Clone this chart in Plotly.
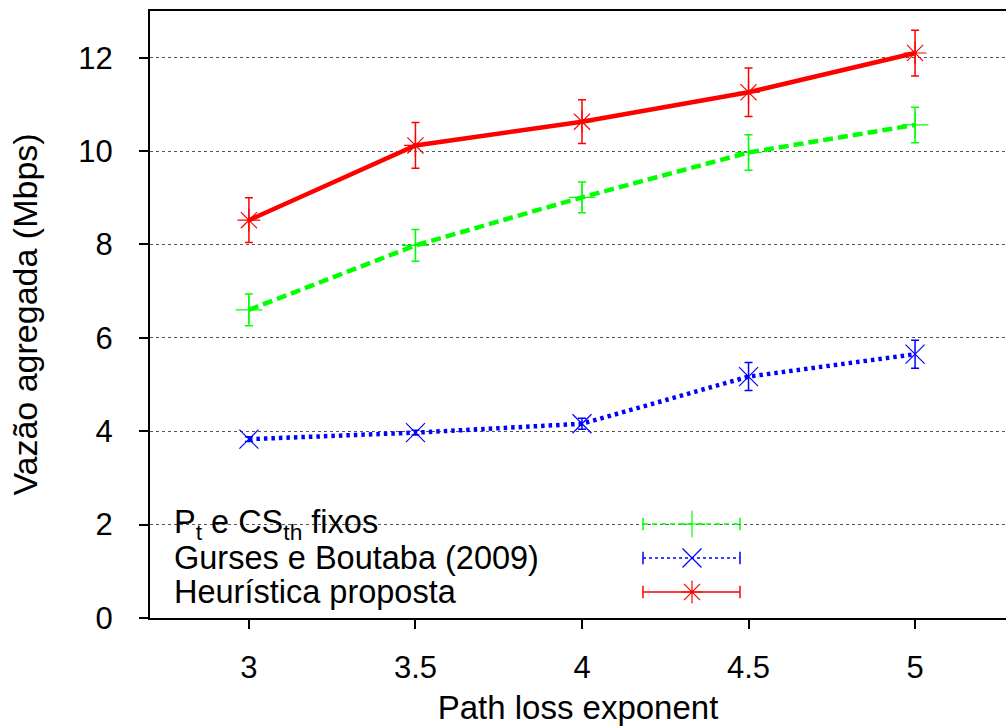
import plotly.graph_objects as go

# ---- data ----
path_loss = [3, 3.5, 4, 4.5, 5]

fixos = [6.60, 7.98, 9.01, 9.97, 10.56]
fixos_err = [0.34, 0.34, 0.33, 0.38, 0.38]

gurses = [3.83, 3.97, 4.16, 5.17, 5.65]
gurses_err = [0.05, 0.05, 0.12, 0.30, 0.30]

heuristica = [8.52, 10.12, 10.63, 11.26, 12.10]
heuristica_err = [0.48, 0.49, 0.47, 0.52, 0.49]

series_names = ["P<sub>t</sub> e CS<sub>th</sub> fixos",
                "Gurses e Boutaba (2009)",
                "Heurística proposta"]
series_vals = [fixos, gurses, heuristica]
series_errs = [fixos_err, gurses_err, heuristica_err]
colors = ["#00ff00", "#0000ff", "#ff0000"]
dashes = ["10px,5px", "3.5px,4px", "solid"]
legend_dashes = ["5px,4px", "3px,3px", "solid"]
symbols = ["cross-thin-open", "x-thin-open", "asterisk-open"]

x_ticks = [3, 3.5, 4, 4.5, 5]
x_ticklabels = ["3", "3.5", "4", "4.5", "5"]
y_ticks = [0, 2, 4, 6, 8, 10, 12]

FONT = "Liberation Sans, Arial, sans-serif"

fig = go.Figure()

for name, vals, errs, col, dsh, sym in zip(series_names, series_vals, series_errs,
                                          colors, dashes, symbols):
    fig.add_trace(go.Scatter(
        x=path_loss, y=vals, mode="lines+markers", name=name,
        line=dict(color=col, width=4.5, dash=dsh),
        marker=dict(symbol=sym, size=19, color=col, line=dict(color=col, width=1.2)),
        error_y=dict(type="data", array=errs, visible=True, color=col,
                     thickness=1.5, width=4),
        xaxis="x", yaxis="y",
    ))

# ---- legend (gnuplot style: text left, sample right), pixel overlay axes ----
leg_rows = [524, 558, 592]
leg_x0, leg_x1, leg_xm = 643, 740, 692
leg_text_x = 172

fig.add_shape(type="rect", xref="x2", yref="y2", x0=166, x1=757, y0=506, y1=612,
              fillcolor="white", line=dict(width=0), layer="below")

for name, col, dsh, sym, ry in zip(series_names, colors, legend_dashes, symbols, leg_rows):
    fig.add_trace(go.Scatter(
        x=[leg_x0, leg_x1], y=[ry, ry], mode="lines+markers",
        line=dict(color=col, width=1.5, dash=dsh),
        marker=dict(symbol="line-ns-open", size=9, color=col, line=dict(color=col, width=1.5)),
        xaxis="x2", yaxis="y2", hoverinfo="skip"))
    fig.add_trace(go.Scatter(
        x=[leg_xm], y=[ry], mode="markers",
        marker=dict(symbol=sym, size=19, color=col, line=dict(color=col, width=1.2)),
        xaxis="x2", yaxis="y2", hoverinfo="skip"))
    fig.add_annotation(x=leg_text_x, y=ry, xref="x2", yref="y2", text=name,
                       showarrow=False, xanchor="left", yanchor="middle",
                       font=dict(family=FONT, size=32.5, color="black"))

fig.update_layout(
    width=1006, height=726,
    margin=dict(l=150, r=0, t=11, b=108),
    paper_bgcolor="white", plot_bgcolor="white",
    showlegend=False,
    font=dict(family=FONT, size=31, color="black"),
    xaxis=dict(
        range=[2.703, 5.273], tickvals=x_ticks, ticktext=x_ticklabels,
        showgrid=False, zeroline=False,
        showline=True, linecolor="black", linewidth=2, mirror=True,
        ticks="outside", ticklen=9, tickwidth=1.5, tickcolor="black",
        tickfont=dict(family=FONT, size=31), ticklabelstandoff=12,
        title=dict(text="Path loss exponent", font=dict(family=FONT, size=33), standoff=13),
        automargin=False,
    ),
    yaxis=dict(
        range=[0, 13], tickvals=y_ticks,
        showgrid=True, gridcolor="#555555", griddash="dot", gridwidth=1,
        zeroline=False,
        showline=True, linecolor="black", linewidth=2,
        ticks="outside", ticklen=9, tickwidth=1.5, tickcolor="black",
        tickfont=dict(family=FONT, size=31), ticklabelstandoff=20,
        title=dict(text="Vazão agregada (Mbps)", font=dict(family=FONT, size=34), standoff=30),
        automargin=False,
    ),
    xaxis2=dict(overlaying="x", range=[150, 1006], visible=False),
    yaxis2=dict(overlaying="y", range=[618, 11], visible=False),
)

fig.write_html("out.html")
